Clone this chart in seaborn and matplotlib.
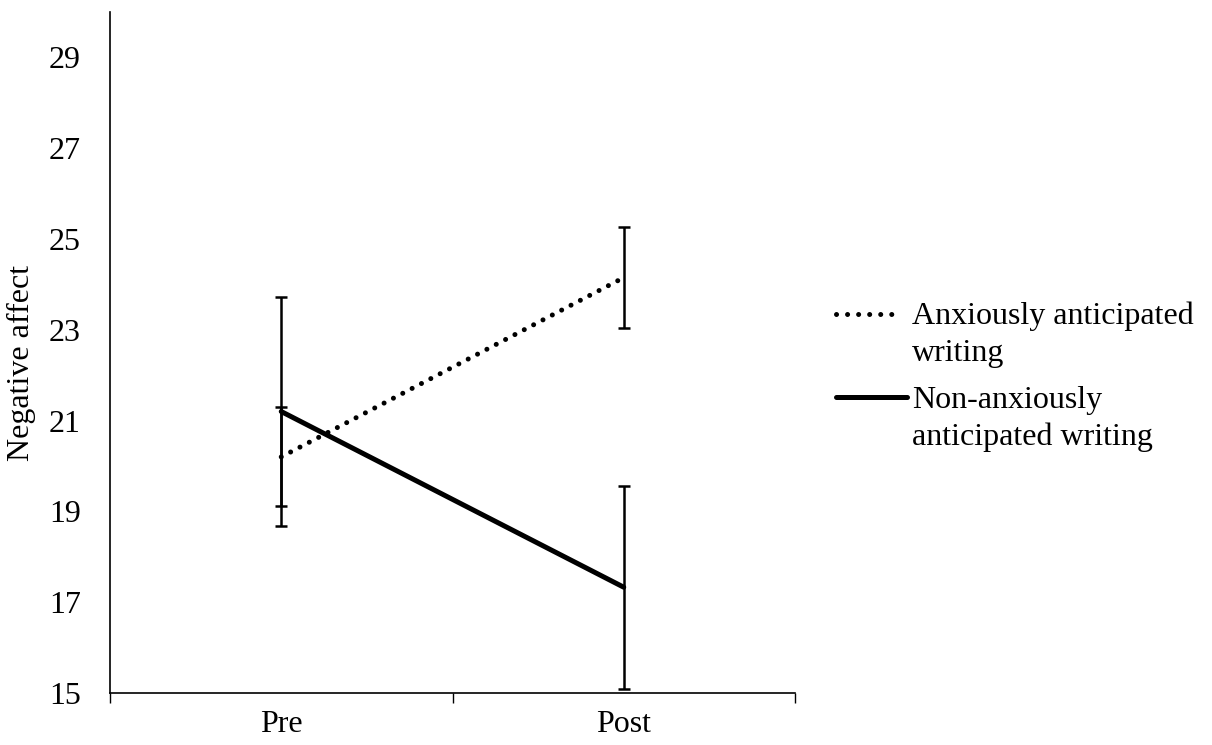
import matplotlib
matplotlib.use("Agg")
import matplotlib.pyplot as plt
import seaborn as sns
import pandas as pd
from matplotlib.lines import Line2D

# ---- data ----
times = ["Pre", "Post"]
groups = ["Anxiously anticipated\nwriting", "Non-anxiously\nanticipated writing"]
anxious_mean = [20.2, 24.15]
anxious_err = [1.09, 1.12]
nonanxious_mean = [21.2, 17.33]
nonanxious_err = [2.53, 2.24]
y_ticks = [15, 17, 19, 21, 23, 25, 27, 29]

df = pd.DataFrame({
    "time": [0, 1, 0, 1],
    "value": anxious_mean + nonanxious_mean,
    "group": [groups[0]] * 2 + [groups[1]] * 2,
})

sns.set_theme(style="white")
plt.rcParams["font.family"] = ["Liberation Serif", "DejaVu Serif"]
plt.rcParams["text.color"] = "black"
plt.rcParams["axes.labelcolor"] = "black"
plt.rcParams["xtick.color"] = "black"
plt.rcParams["ytick.color"] = "black"

FS = 23
W, H = 1212, 745
fig = plt.figure(figsize=(W / 100, H / 100), dpi=100)
ax = fig.add_axes([110 / W, 1 - 693 / H, (795 - 110) / W, (693 - 12) / H])

sns.lineplot(data=df, x="time", y="value", hue="group", style="group",
             palette=["black", "black"], dashes=False, ax=ax, legend=False,
             errorbar=None)
lines = ax.get_lines()
dot_style = (0, (0.01, 2.1))
lines[0].set_linestyle(dot_style)
lines[0].set_linewidth(3.6)
lines[0].set_dash_capstyle("round")
lines[1].set_linestyle("-")
lines[1].set_linewidth(3.6)
lines[1].set_solid_capstyle("round")

for m, e in [(anxious_mean, anxious_err), (nonanxious_mean, nonanxious_err)]:
    ax.errorbar([0, 1], m, yerr=e, fmt="none", ecolor="black",
                elinewidth=1.8, capsize=4, capthick=1.8, zorder=3)

ax.set_xlim(-0.5, 1.5)
ax.set_ylim(15, 30)
ax.set_yticks(y_ticks)
ax.set_yticklabels([str(t) for t in y_ticks], fontsize=FS)
ax.set_xticks([-0.5, 0.5, 1.5])
ax.set_xticklabels([])
ax.set_xticks([0, 1], minor=True)
ax.set_xticklabels(times, minor=True, fontsize=FS)
ax.tick_params(axis="x", which="major", direction="out", length=7, width=1, color="black", bottom=True)
ax.tick_params(axis="x", which="minor", length=0, pad=12)
ax.tick_params(axis="y", length=0, pad=21)
ax.set_xlabel("")
ax.set_ylabel("Negative affect", fontsize=FS)
ax.yaxis.set_label_coords((36 - 110) / 685, 0.485)

for s in ["top", "right"]:
    ax.spines[s].set_visible(False)
for s in ["left", "bottom"]:
    ax.spines[s].set_color("black")
    ax.spines[s].set_linewidth(1.2)

# ---- legend (handle aligned with first line of each label) ----
def fx(px):
    return px / W

def fy(py):
    return 1 - py / H

legend_rows = [
    (groups[0], 314, 324, dict(linestyle=(0, (0.01, 2.2)), lw=3.6, dash_capstyle="round"), 900),
    (groups[1], 397, 408, dict(linestyle="-", lw=3.6, solid_capstyle="round"), 907),
]
for label, ly, base, style, xend in legend_rows:
    fig.add_artist(Line2D([fx(836), fx(xend)], [fy(ly), fy(ly)], color="black",
                          transform=fig.transFigure, **style))
    for i, part in enumerate(label.split("\n")):
        fig.text(fx(912), fy(base + i * 37), part, fontsize=FS, va="baseline", ha="left")

fig.savefig("out.png", dpi=100)
